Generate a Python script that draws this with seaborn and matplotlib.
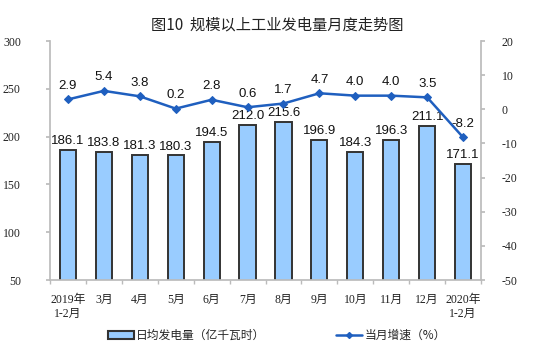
import matplotlib
matplotlib.use("Agg")
import matplotlib.pyplot as plt
import seaborn as sns
import pandas as pd
import numpy as np

months = ["2019年\n1-2月", "3月", "4月", "5月", "6月", "7月", "8月", "9月", "10月", "11月", "12月", "2020年\n1-2月"]
daily_gen = [186.1, 183.8, 181.3, 180.3, 194.5, 212.0, 215.6, 196.9, 184.3, 196.3, 211.1, 171.1]
growth = [2.9, 5.4, 3.8, 0.2, 2.8, 0.6, 1.7, 4.7, 4.0, 4.0, 3.5, -8.2]

sns.set_theme(style="white")
plt.rcParams['font.family'] = ['Liberation Serif', 'Noto Sans CJK SC', 'DejaVu Sans']
plt.rcParams['axes.unicode_minus'] = False

df = pd.DataFrame({"month": months, "gen": daily_gen, "growth": growth})

fig = plt.figure(figsize=(5.54, 3.55), dpi=100)
ax = fig.add_axes([0.0903, 0.211, 0.778, 0.6735])
sns.barplot(data=df, x="month", y="gen", ax=ax, color="#99ccff", saturation=1,
            edgecolor="#333333", linewidth=1.4, width=0.45)
ax.set_ylim(50, 300)
ax.set_yticks(np.arange(50, 301, 50))
ax.set_xlim(-0.5, len(months) - 0.5)
ax.set_xlabel("")
ax.set_ylabel("")
for i, v in enumerate(daily_gen):
    ax.text(i, v + 3, f"{v:.1f}", ha="center", va="bottom", fontsize=9.5,
            family="Liberation Sans", color="#111111")

ax2 = ax.twinx()
x = np.arange(len(months))
sns.lineplot(x=x, y=growth, ax=ax2, color="#1f5fbf", marker="D", markersize=4,
             markeredgecolor="#1f5fbf", linewidth=1.8)
ax2.set_ylim(-50, 20)
ax2.set_yticks(np.arange(-50, 21, 10))
for i, v in enumerate(growth):
    ax2.text(i, v + 2.2, f"{v:.1f}", ha="center", va="bottom", fontsize=9.5,
             family="Liberation Sans", color="#111111")

for s in ax.spines.values():
    s.set_visible(False)
for s in ax2.spines.values():
    s.set_visible(False)
ax.spines['left'].set_visible(True)
ax.spines['left'].set_color("#bbbbbb")
ax2.spines['right'].set_visible(True)
ax2.spines['right'].set_color("#bbbbbb")
ax.spines['bottom'].set_visible(True)
ax.spines['bottom'].set_color("#bbbbbb")

ax.tick_params(axis='y', which='both', left=True, length=3, color="#bbbbbb", labelsize=8.5, pad=18, labelcolor="#222222")
ax2.tick_params(axis='y', right=True, length=3, color="#bbbbbb", labelsize=8.5, pad=12, labelcolor="#222222")
ax.tick_params(axis='x', bottom=False, labelsize=8.5, labelcolor="#222222", pad=4)
ax.set_xticks(np.arange(-0.5, len(months), 1.0), minor=True)
ax.tick_params(axis='x', which='minor', bottom=True, length=3, color="#bbbbbb")

fig.text(0.5, 0.93, "图10  规模以上工业发电量月度走势图", ha="center", va="center",
         fontsize=11, family=["Noto Sans CJK SC", "DejaVu Sans"], color="#222222")

from matplotlib.patches import Patch
from matplotlib.lines import Line2D
handles = [Patch(facecolor="#99ccff", edgecolor="#333333", linewidth=1.5, label="日均发电量（亿千瓦时）"),
           Line2D([0], [0], color="#1f5fbf", marker="D", markersize=3, linewidth=1.8, label="当月增速（%）")]
fig.legend(handles=handles, loc="center", bbox_to_anchor=(0.5, 0.055), ncol=2, frameon=False,
           prop={"family": ["Noto Sans CJK SC", "DejaVu Sans"], "size": 8.5},
           columnspacing=6, handlelength=2.2, handletextpad=0.2)

fig.savefig("out.png", dpi=100)
